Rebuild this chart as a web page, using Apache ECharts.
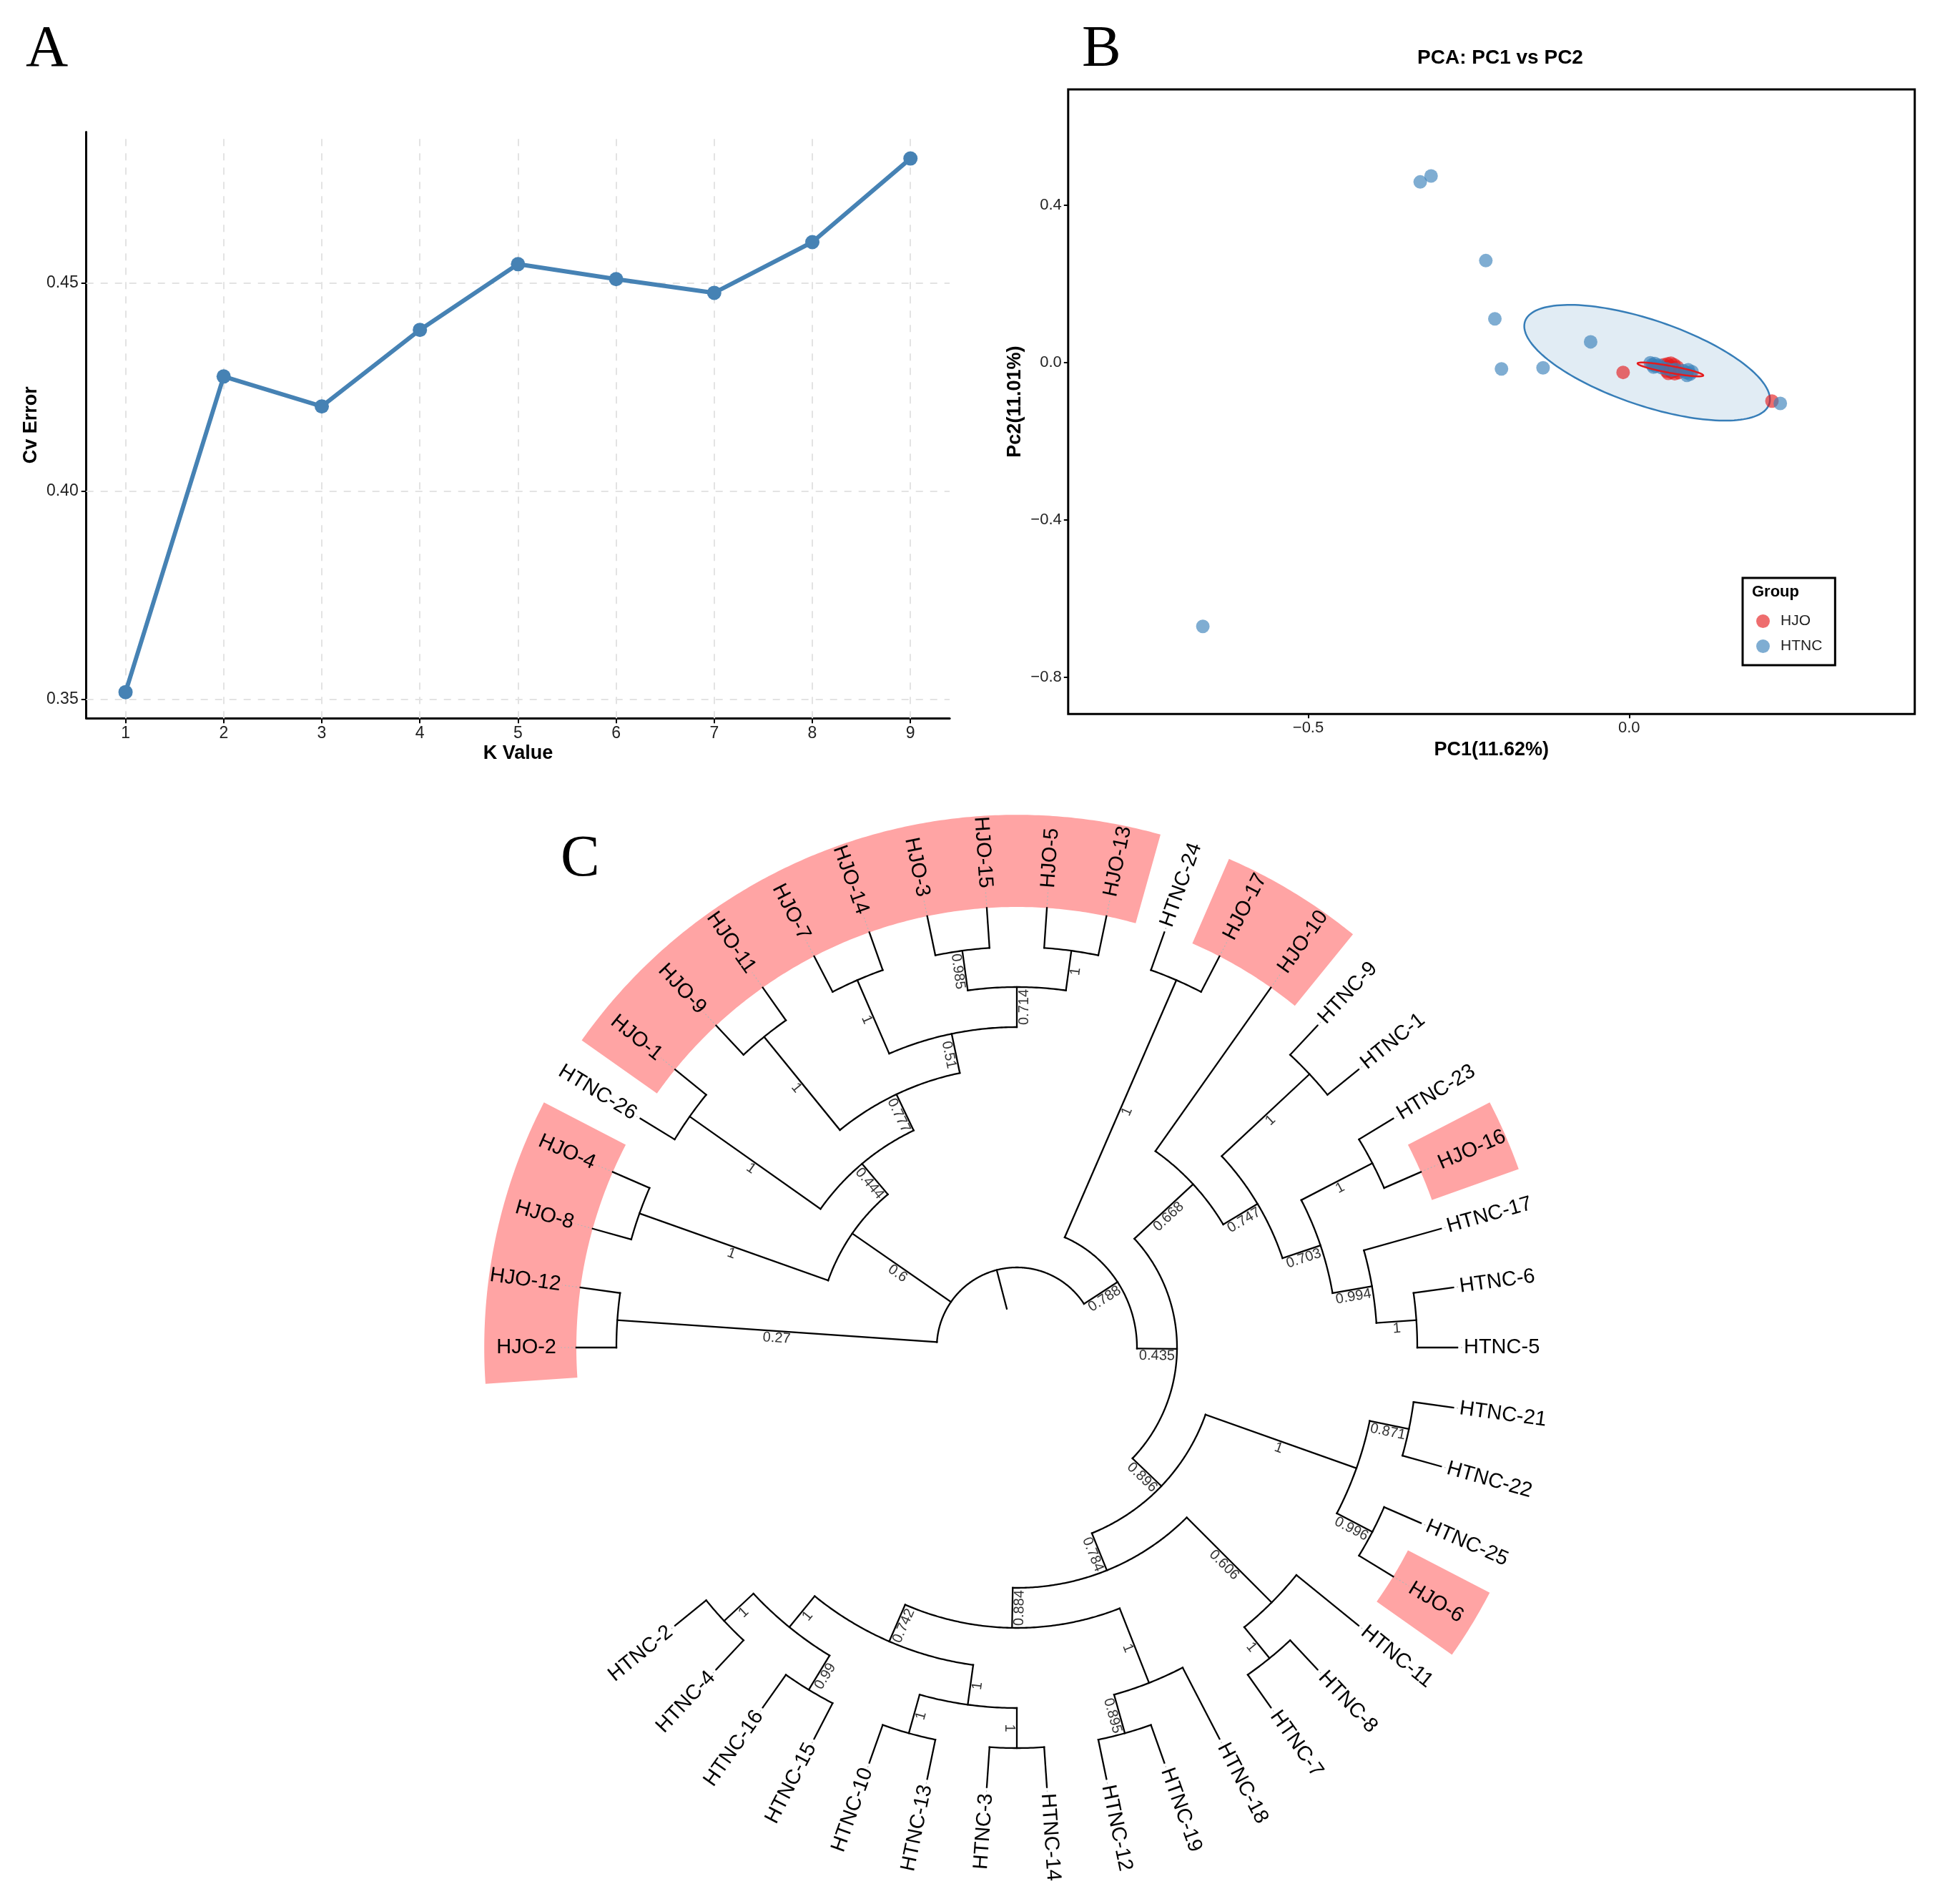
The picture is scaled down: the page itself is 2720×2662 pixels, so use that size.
<!DOCTYPE html>
<html>
<head>
<meta charset="utf-8">
<script src="https://cdn.jsdelivr.net/npm/echarts@6/dist/echarts.min.js"></script>
<style>
  html, body { margin: 0; padding: 0; background: #fff; }
  #main { width: 2720px; height: 2662px; }
</style>
</head>
<body>
<div id="main"></div>
<script>
// ---- A: CV error by K ----
const kValues = [1, 2, 3, 4, 5, 6, 7, 8, 9];
const cvErrors = [0.3517, 0.4276, 0.4204, 0.4388, 0.4546, 0.4510, 0.4477, 0.4599, 0.4800];
const cvTicks = [0.35, 0.40, 0.45];

// ---- B: PCA scores ----
const hjoPoints = [
  [0.054, -0.006], [0.057, -0.013], [0.060, -0.004], [0.062, -0.018], [0.064, -0.010],
  [0.066, -0.025], [0.068, -0.014], [0.070, -0.006], [0.072, -0.021], [0.075, -0.012],
  [0.058, -0.022], [0.077, -0.026], [0.061, -0.028], [0.071, -0.029], [0.065, -0.002],
  [-0.0094, -0.0255], [0.2225, -0.0985]
];
const htncPoints = [
  [-0.3255, 0.4586], [-0.3086, 0.4739], [-0.2233, 0.2586], [-0.2092, 0.1108],
  [-0.0600, 0.0522], [-0.1989, -0.0166], [-0.1341, -0.0140], [-0.6642, -0.6713],
  [0.2355, -0.1045],
  [0.033, -0.001], [0.036, -0.006], [0.040, -0.003], [0.042, -0.010], [0.038, -0.012],
  [0.046, -0.007], [0.050, -0.013], [0.058, -0.016], [0.066, -0.020], [0.072, -0.018],
  [0.084, -0.021], [0.089, -0.026], [0.092, -0.019], [0.095, -0.030], [0.098, -0.024],
  [0.090, -0.033]
];
const pc1Ticks = [-0.5, 0.0];
const pc2Ticks = [-0.8, -0.4, 0.0, 0.4];
// ellipses: centre x, centre y, then a, b, c of x = cx + a cos t, y = cy + b cos t + c sin t
const hjoEllipse = [0.0643, -0.018, 0.0512, -0.0152, 0.009];
const htncEllipse = [0.028, -0.001, 0.1914, -0.0930, 0.1140];

// ---- C: tree ----
const tipLabels = [
  'HJO-2', 'HJO-12', 'HJO-8', 'HJO-4', 'HTNC-26', 'HJO-1', 'HJO-9', 'HJO-11', 'HJO-7',
  'HJO-14', 'HJO-3', 'HJO-15', 'HJO-5', 'HJO-13', 'HTNC-24', 'HJO-17', 'HJO-10',
  'HTNC-9', 'HTNC-1', 'HTNC-23', 'HJO-16', 'HTNC-17', 'HTNC-6', 'HTNC-5', 'HTNC-21',
  'HTNC-22', 'HTNC-25', 'HJO-6', 'HTNC-11', 'HTNC-8', 'HTNC-7', 'HTNC-18', 'HTNC-19',
  'HTNC-12', 'HTNC-14', 'HTNC-3', 'HTNC-13', 'HTNC-10', 'HTNC-15', 'HTNC-16', 'HTNC-4',
  'HTNC-2'
];
const treeNewick =
  '((HJO-2,HJO-12)0.27,((HJO-8,HJO-4)1,((HTNC-26,HJO-1)1,((HJO-9,HJO-11)1,((HJO-7,HJO-14)1,' +
  '((HJO-3,HJO-15)0.985,(HJO-5,HJO-13)1)0.714)0.51)0.777)0.444)0.6,((HTNC-24,HJO-17)1,' +
  '((HJO-10,((HTNC-9,HTNC-1)1,((HTNC-23,HJO-16)1,(HTNC-17,(HTNC-6,HTNC-5)1)0.994)0.703)0.747)0.668,' +
  '(((HTNC-21,HTNC-22)0.871,(HTNC-25,HJO-6)0.996)1,((HTNC-11,(HTNC-8,HTNC-7)1)0.606,' +
  '((HTNC-18,(HTNC-19,HTNC-12)0.895)1,(((HTNC-14,HTNC-3)1,(HTNC-13,HTNC-10)1)1,' +
  '((HTNC-15,HTNC-16)0.99,(HTNC-4,HTNC-2)1)1)0.742)0.884)0.784)0.896)0.435)0.788);';
const highlightPrefix = 'HJO';

const SANS = '"Liberation Sans", Arial, Helvetica, sans-serif';
const SERIF = '"Liberation Serif", "Times New Roman", serif';

function parseNewick(s) {
  let pos = 0;
  function node() {
    const n = { children: [] };
    if (s[pos] === '(') {
      pos++;
      n.children.push(node());
      while (s[pos] === ',') { pos++; n.children.push(node()); }
      pos++;
    }
    let lab = '';
    while (pos < s.length && ',();'.indexOf(s[pos]) < 0) lab += s[pos++];
    if (n.children.length) n.support = lab; else n.name = lab;
    return n;
  }
  return node();
}

// cladogram layout: tips aligned, node depth = root height - node height
const treeRoot = parseNewick(treeNewick);
function measure(n) {
  if (!n.children.length) { n.height = 0; n.idx = tipLabels.indexOf(n.name); n.lo = n.hi = n.idx; return; }
  n.children.forEach(measure);
  n.height = Math.max.apply(null, n.children.map(c => c.height)) + 1;
  n.lo = Math.min.apply(null, n.children.map(c => c.idx));
  n.hi = Math.max.apply(null, n.children.map(c => c.idx));
  n.idx = (n.lo + n.hi) / 2;
}
measure(treeRoot);
const rootHeight = treeRoot.height;

const branchData = [];
const supportData = [];
const supportText = [];
(function walk(n, parentLevel) {
  const level = rootHeight - n.height;
  branchData.push([level, n.idx, parentLevel, n.lo, n.hi]);
  if (n.children.length && n !== treeRoot) {
    supportData.push([(level + parentLevel) / 2, n.idx]);
    supportText.push(n.support);
  }
  n.children.forEach(c => walk(c, level));
})(treeRoot, -1);

const tipLevel = rootHeight;
const labelLevel = tipLabels.map(t => t.indexOf(highlightPrefix) === 0 ? 9.5 : 9.16);
const tipData = tipLabels.map((t, i) => [labelLevel[i], i]);
const hiliteRuns = [];
tipLabels.forEach((t, i) => {
  if (t.indexOf(highlightPrefix) !== 0) return;
  const last = hiliteRuns[hiliteRuns.length - 1];
  if (last && last[1] === i - 1) last[1] = i; else hiliteRuns.push([i, i]);
});

function arcPoints(api, level, a0, a1) {
  const pts = [];
  const n = Math.max(2, Math.ceil((a1 - a0) / 0.05));
  for (let k = 0; k <= n; k++) pts.push(api.coord([level, a0 + (a1 - a0) * k / n]));
  return pts;
}

function radialAngle(api, level, idx) {
  const p = api.coord([level, idx]);
  const c = api.coord([-2, idx]);
  return { p: p, th: Math.atan2(c[1] - p[1], p[0] - c[0]) };
}

function ellipseRender(par, fill, stroke) {
  return function (params, api) {
    const pts = [];
    for (let i = 0; i <= 160; i++) {
      const t = i / 160 * 2 * Math.PI;
      pts.push(api.coord([par[0] + par[2] * Math.cos(t), par[1] + par[3] * Math.cos(t) + par[4] * Math.sin(t)]));
    }
    return { type: 'polygon', shape: { points: pts }, style: { fill: fill, stroke: stroke, lineWidth: 2.5 } };
  };
}

const minusFmt = v => (Math.abs(v) < 1e-9 ? 0 : v).toFixed(1).replace('-', '\u2212');

const chart = echarts.init(document.getElementById('main'), null, { renderer: 'canvas' });
chart.setOption({
  animation: false,
  backgroundColor: '#fff',
  textStyle: { fontFamily: SANS },
  title: {
    text: 'PCA: PC1 vs PC2', left: 2093, top: 62, textAlign: 'center',
    textStyle: { fontSize: 28, fontWeight: 'bold', color: '#000', fontFamily: SANS }
  },
  legend: {
    data: ['HJO', 'HTNC'], orient: 'vertical', left: 2437, top: 808,
    borderColor: '#000', borderWidth: 3, padding: [50, 18, 16, 19], itemGap: 14,
    itemWidth: 19, itemHeight: 19, icon: 'circle', selectedMode: false,
    textStyle: { fontSize: 21, color: '#222', padding: [0, 0, 0, 10] }
  },
  graphic: [
    { type: 'text', left: 36, top: 29, style: { text: 'A', font: '82px ' + SERIF, fill: '#000' } },
    { type: 'text', left: 1513, top: 29, style: { text: 'B', font: '82px ' + SERIF, fill: '#000' } },
    { type: 'text', left: 784, top: 1161, style: { text: 'C', font: '82px ' + SERIF, fill: '#000' } },
    { type: 'text', left: 2450, top: 817, style: { text: 'Group', font: 'bold 22px ' + SANS, fill: '#000' } }
  ],
  grid: [
    { left: 120.7, top: 184.4, width: 1207.4, height: 819.9 },
    { left: 1493.8, top: 124.9, width: 1183.9, height: 873.4, show: true, borderColor: '#000', borderWidth: 3, backgroundColor: 'transparent' }
  ],
  xAxis: [
    {
      gridIndex: 0, type: 'value', min: 0.6, max: 9.4,
      axisLine: { onZero: false, lineStyle: { color: '#000', width: 3 } },
      axisTick: { customValues: kValues, length: 7, lineStyle: { color: '#000', width: 2 } },
      axisLabel: { customValues: kValues, fontSize: 23, color: '#222', margin: 10 },
      splitLine: { show: false },
      name: 'K Value', nameLocation: 'middle', nameGap: 36,
      nameTextStyle: { fontSize: 27, fontWeight: 'bold', color: '#000' }
    },
    {
      gridIndex: 1, type: 'value', min: -0.874, max: 0.445,
      axisLine: { show: false, onZero: false },
      axisTick: { customValues: pc1Ticks, length: 6, lineStyle: { color: '#000', width: 2 } },
      axisLabel: { customValues: pc1Ticks, formatter: minusFmt, fontSize: 22, color: '#222', margin: 9 },
      splitLine: { show: false },
      name: 'PC1(11.62%)', nameLocation: 'middle', nameGap: 37,
      nameTextStyle: { fontSize: 27, fontWeight: 'bold', color: '#000' }
    }
  ],
  yAxis: [
    {
      gridIndex: 0, type: 'value', min: 0.3454, max: 0.4864,
      axisLine: { show: true, onZero: false, lineStyle: { color: '#000', width: 3 } },
      axisTick: { show: true, customValues: cvTicks, length: 7, lineStyle: { color: '#000', width: 2 } },
      axisLabel: { customValues: cvTicks, formatter: v => v.toFixed(2), fontSize: 23, color: '#222', margin: 11 },
      splitLine: { show: false },
      name: 'Cv Error', nameLocation: 'middle', nameGap: 64,
      nameTextStyle: { fontSize: 27, fontWeight: 'bold', color: '#000' }
    },
    {
      gridIndex: 1, type: 'value', min: -0.894, max: 0.694,
      axisLine: { show: false, onZero: false },
      axisTick: { show: true, customValues: pc2Ticks, length: 6, lineStyle: { color: '#000', width: 2 } },
      axisLabel: { customValues: pc2Ticks, formatter: minusFmt, fontSize: 22, color: '#222', margin: 9 },
      splitLine: { show: false },
      name: 'Pc2(11.01%)', nameLocation: 'middle', nameGap: 61,
      nameTextStyle: { fontSize: 27, fontWeight: 'bold', color: '#000' }
    }
  ],
  polar: { center: [1422, 1884], radius: 784 },
  angleAxis: { type: 'value', min: 0, max: 46, startAngle: 180, clockwise: true, show: false },
  radiusAxis: { type: 'value', min: -2, max: 12, show: false },
  series: [
    // A: dashed grid under the line
    {
      type: 'line', xAxisIndex: 0, yAxisIndex: 0, z: 1, silent: true,
      data: kValues.map((k, i) => [k, cvErrors[i]]), symbol: 'none', lineStyle: { opacity: 0 },
      markLine: {
        z: 1, silent: true, symbol: 'none', label: { show: false },
        lineStyle: { type: [10, 10], color: '#e3e3e3', width: 2 },
        data: kValues.map(k => ({ xAxis: k })).concat(cvTicks.map(v => ({ yAxis: v })))
      }
    },
    {
      name: 'cv', type: 'line', xAxisIndex: 0, yAxisIndex: 0, z: 3,
      data: kValues.map((k, i) => [k, cvErrors[i]]),
      symbol: 'circle', symbolSize: 20,
      lineStyle: { color: '#4682B4', width: 6 }, itemStyle: { color: '#4682B4', borderWidth: 0 }
    },
    // B
    {
      type: 'custom', xAxisIndex: 1, yAxisIndex: 1, z: 1, silent: true,
      data: [[htncEllipse[0], htncEllipse[1]]],
      renderItem: ellipseRender(htncEllipse, 'rgba(55,126,184,0.15)', '#377EB8')
    },
    {
      name: 'HJO', type: 'scatter', xAxisIndex: 1, yAxisIndex: 1, z: 2,
      data: hjoPoints, symbolSize: 19, itemStyle: { color: 'rgba(228,26,28,0.8)' }
    },
    {
      name: 'HTNC', type: 'scatter', xAxisIndex: 1, yAxisIndex: 1, z: 3,
      data: htncPoints, symbolSize: 19, itemStyle: { color: 'rgba(55,126,184,0.8)' }
    },
    {
      type: 'custom', xAxisIndex: 1, yAxisIndex: 1, z: 4, silent: true,
      data: [[hjoEllipse[0], hjoEllipse[1]]],
      renderItem: ellipseRender(hjoEllipse, 'rgba(228,26,28,0.12)', '#E41A1C')
    },
    // C: highlight bands
    {
      type: 'custom', coordinateSystem: 'polar', polarIndex: 0, z: 1, silent: true,
      data: hiliteRuns,
      renderItem: function (params, api) {
        const a0 = api.value(0) - 0.5, a1 = api.value(1) + 0.5;
        const outer = arcPoints(api, 11.3, a0, a1);
        const inner = arcPoints(api, 9.0, a0, a1).reverse();
        return { type: 'polygon', shape: { points: outer.concat(inner) }, style: { fill: '#FFA4A4' } };
      }
    },
    // C: dotted leaders tip -> label
    {
      type: 'custom', coordinateSystem: 'polar', polarIndex: 0, z: 2, silent: true,
      data: tipData,
      renderItem: function (params, api) {
        const p0 = api.coord([tipLevel, api.value(1)]);
        const p1 = api.coord([api.value(0) - 0.04, api.value(1)]);
        return { type: 'line', shape: { x1: p0[0], y1: p0[1], x2: p1[0], y2: p1[1] },
          style: { stroke: '#b5b5b5', lineWidth: 1.2, lineDash: [2, 3] } };
      }
    },
    // C: branches
    {
      type: 'custom', coordinateSystem: 'polar', polarIndex: 0, z: 3, silent: true,
      data: branchData,
      renderItem: function (params, api) {
        const lv = api.value(0), idx = api.value(1), plv = api.value(2), lo = api.value(3), hi = api.value(4);
        const p0 = api.coord([plv, idx]), p1 = api.coord([lv, idx]);
        const kids = [{ type: 'line', shape: { x1: p0[0], y1: p0[1], x2: p1[0], y2: p1[1] },
          style: { stroke: '#000', lineWidth: 2.3, lineCap: 'square' } }];
        if (hi > lo) {
          kids.push({ type: 'polyline', shape: { points: arcPoints(api, lv, lo, hi) },
            style: { stroke: '#000', fill: null, lineWidth: 2.3, lineCap: 'square' } });
        }
        return { type: 'group', children: kids };
      }
    },
    // C: support values
    {
      type: 'custom', coordinateSystem: 'polar', polarIndex: 0, z: 4, silent: true,
      data: supportData,
      renderItem: function (params, api) {
        const r = radialAngle(api, api.value(0), api.value(1));
        const right = Math.cos(r.th) >= 0;
        return { type: 'text', x: r.p[0], y: r.p[1], rotation: right ? r.th : r.th - Math.PI,
          style: { text: supportText[params.dataIndex], fill: '#333', font: '20px ' + SANS,
            textAlign: 'center', textVerticalAlign: 'top' } };
      }
    },
    // C: tip labels
    {
      type: 'custom', coordinateSystem: 'polar', polarIndex: 0, z: 5, silent: true,
      data: tipData,
      renderItem: function (params, api) {
        const r = radialAngle(api, api.value(0), api.value(1));
        const right = Math.cos(r.th) >= 0;
        return { type: 'text', x: r.p[0], y: r.p[1], rotation: right ? r.th : r.th - Math.PI,
          style: { text: tipLabels[params.dataIndex], fill: '#000', font: '29px ' + SANS,
            textAlign: right ? 'left' : 'right', textVerticalAlign: 'middle' } };
      }
    }
  ]
});
</script>
</body>
</html>
